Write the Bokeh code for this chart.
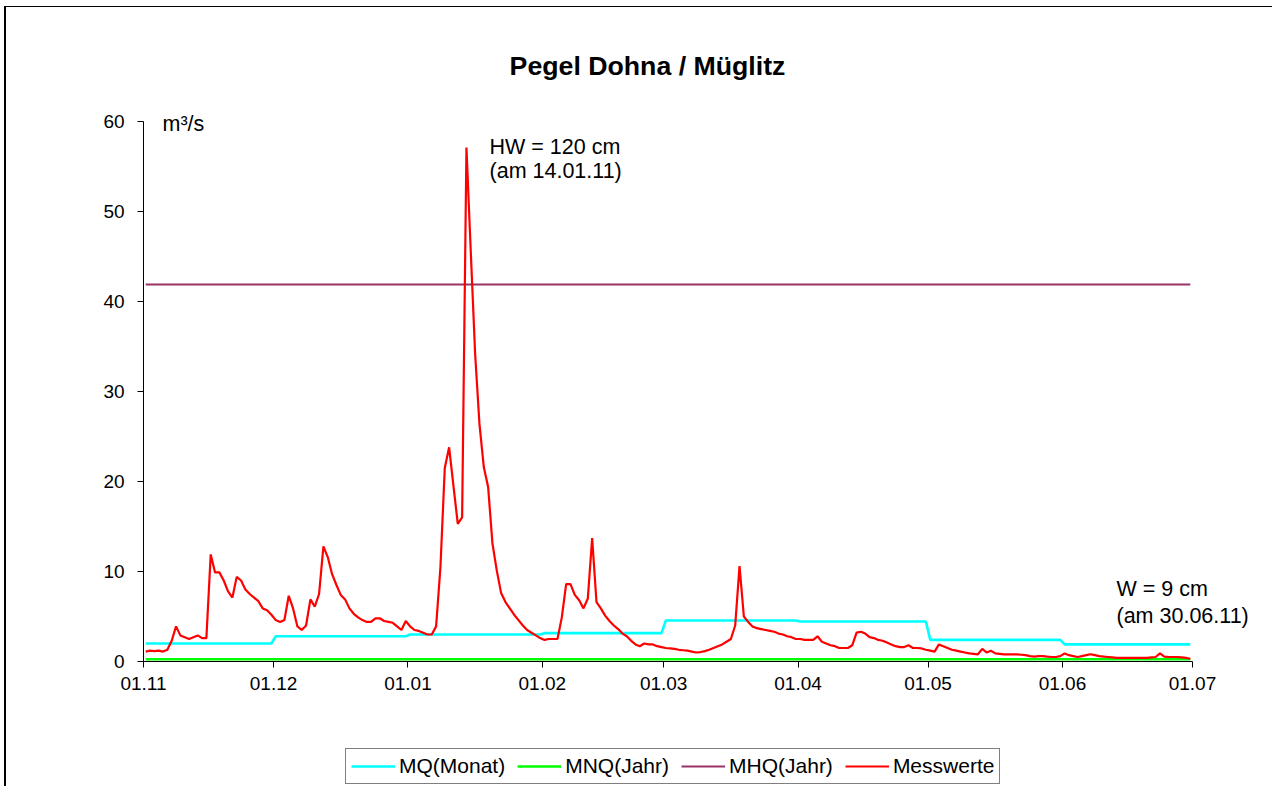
import pandas as pd
from bokeh.plotting import figure
from bokeh.models import Range1d, FixedTicker, DatetimeTickFormatter, Legend, LegendItem, Label
from bokeh.embed import file_html
from bokeh.resources import INLINE

# ---- data (daily discharge in m³/s, 01.11.2010 - 30.06.2011) ----
nov = [1.1, 1.2, 1.15, 1.2, 1.1, 1.3, 2.3, 3.9, 2.9, 2.7, 2.5, 2.7, 2.9, 2.6, 2.6,
       11.9, 9.9, 9.9, 9.0, 7.8, 7.1, 9.4, 9.0, 8.0, 7.5, 7.1, 6.7, 5.9, 5.7, 5.2]
dec = [4.6, 4.4, 4.6, 7.3, 5.9, 3.9, 3.5, 4.0, 6.9, 6.1, 7.5, 12.8, 11.6, 9.7, 8.5, 7.4,
       6.9, 5.9, 5.3, 4.9, 4.6, 4.4, 4.4, 4.8, 4.8, 4.5, 4.4, 4.3, 3.9, 3.5, 4.5]
jan = [3.9, 3.5, 3.4, 3.2, 3.0, 3.0, 3.9, 10.5, 21.5, 23.8, 19.5, 15.3, 16.0, 57.1, 45.5,
       34.2, 26.4, 21.6, 19.4, 13.1, 10.1, 7.6, 6.6, 5.9, 5.2, 4.6, 4.0, 3.5, 3.2, 2.9, 2.6]
feb = [2.4, 2.5, 2.5, 2.5, 4.9, 8.6, 8.6, 7.4, 6.8, 5.9, 7.0, 13.7, 6.6, 5.9, 5.1, 4.5,
       4.0, 3.6, 3.1, 2.8, 2.3, 1.9, 1.7, 2.0, 1.9, 1.9, 1.7, 1.6]
mar = [1.5, 1.45, 1.4, 1.3, 1.25, 1.2, 1.1, 1.0, 1.05, 1.15, 1.3, 1.5, 1.7, 1.9, 2.2, 2.5,
       4.0, 10.6, 5.0, 4.4, 3.9, 3.7, 3.6, 3.5, 3.4, 3.3, 3.1, 3.0, 2.8, 2.7, 2.5]
apr = [2.5, 2.4, 2.4, 2.4, 2.8, 2.2, 2.0, 1.8, 1.7, 1.5, 1.5, 1.5, 1.8, 3.2, 3.3, 3.1,
       2.7, 2.6, 2.4, 2.3, 2.1, 1.9, 1.7, 1.6, 1.6, 1.8, 1.5, 1.5, 1.45, 1.3]
may = [1.2, 1.1, 1.9, 1.7, 1.5, 1.3, 1.2, 1.1, 1.0, 0.9, 0.85, 0.8, 1.4, 1.0, 1.2, 0.9,
       0.85, 0.8, 0.8, 0.8, 0.8, 0.75, 0.7, 0.6, 0.55, 0.6, 0.6, 0.55, 0.5, 0.5, 0.6]
jun = [0.9, 0.7, 0.6, 0.5, 0.6, 0.7, 0.8, 0.7, 0.6, 0.55, 0.5, 0.45, 0.4, 0.4, 0.4, 0.4,
       0.4, 0.4, 0.4, 0.4, 0.45, 0.5, 0.9, 0.55, 0.5, 0.5, 0.5, 0.45, 0.4, 0.3]
months = [nov, dec, jan, feb, mar, apr, may, jun]

mq_monat = [2.0, 2.8, 3.0, 3.15, 4.55, 4.45, 2.4, 1.9]   # MQ(Monat)
mnq_jahr = 0.25                                          # MNQ(Jahr)
mhq_jahr = 41.9                                          # MHQ(Jahr)

tick_labels = ["01.11", "01.12", "01.01", "01.02", "01.03", "01.04", "01.05", "01.06", "01.07"]
tick_dates = ["2010-11-01", "2010-12-01", "2011-01-01", "2011-02-01", "2011-03-01",
              "2011-04-01", "2011-05-01", "2011-06-01", "2011-07-01"]
y_ticks = [0, 10, 20, 30, 40, 50, 60]

# ---- derived series ----
messwerte = [v for m in months for v in m]
mq_daily = [mq_monat[i] for i, m in enumerate(months) for _ in m]
dates = pd.date_range("2010-11-01", periods=len(messwerte), freq="D")
xs = dates + pd.Timedelta(hours=12)
mnq_daily = [mnq_jahr] * len(messwerte)
mhq_daily = [mhq_jahr] * len(messwerte)

FONT = "Liberation Sans"

# The frame covers almost the whole canvas; both axes are placed at fixed data
# locations (x axis at 0, y axis at 01.11) and bounded, so that the title, labels,
# legend and notes around the plot area are drawn inside the frame.
p = figure(width=1268, height=780, x_axis_type="datetime",
           output_backend="svg", toolbar_location=None, title_location=None,
           x_range=Range1d(pd.Timestamp("2010-10-02"), pd.Timestamp("2011-07-16")),
           y_range=Range1d(-13.89, 72.556),
           min_border_left=7, min_border_right=17, min_border_top=1, min_border_bottom=1)
p.styles = {"border-left": "2px solid #000000", "border-top": "1px solid #000000",
            "margin-left": "4px", "margin-top": "6px"}
p.outline_line_color = None
p.xgrid.visible = False
p.ygrid.visible = False
p.background_fill_color = "white"
p.border_fill_color = "white"

r_mnq = p.line(xs, mnq_daily, line_color="#00FF00", line_width=2.6)
r_mhq = p.line(xs, mhq_daily, line_color="#993366", line_width=2)
r_mq = p.line(xs, mq_daily, line_color="#00FFFF", line_width=2.6)
r_mw = p.line(xs, messwerte, line_color="#FF0000", line_width=2.2)

tick_ms = [pd.Timestamp(d).value // 10**6 for d in tick_dates]
p.xaxis.ticker = FixedTicker(ticks=tick_ms)
p.xaxis.major_label_overrides = {t: lab for t, lab in zip(tick_ms, tick_labels)}
p.xaxis.formatter = DatetimeTickFormatter(days="%d.%m", months="%d.%m", years="%d.%m")
p.xaxis.bounds = (tick_ms[0], tick_ms[-1])
p.xaxis.fixed_location = y_ticks[0]
p.yaxis.ticker = FixedTicker(ticks=y_ticks)
p.yaxis.bounds = (y_ticks[0], y_ticks[-1])
p.yaxis.fixed_location = tick_ms[0]

for ax in (p.xaxis[0], p.yaxis[0]):
    ax.axis_line_color = "#000000"
    ax.major_tick_line_color = "#000000"
    ax.minor_tick_line_color = None
    ax.major_tick_in = 0
    ax.major_tick_out = 6
    ax.major_label_text_font = FONT
    ax.major_label_text_font_size = "19px"
    ax.major_label_text_color = "#000000"
p.xaxis.major_label_standoff = 10
p.yaxis.major_label_standoff = 13

# title
p.add_layout(Label(x=pd.Timestamp("2011-02-25 06:30"), y=66.2, text="Pegel Dohna / Müglitz",
                   text_font=FONT, text_font_size="26.7px", text_font_style="bold",
                   text_color="#000000", text_align="center", text_baseline="alphabetic"))

def note(x, y, text):
    p.add_layout(Label(x=pd.Timestamp(x), y=y, text=text, text_font=FONT,
                       text_font_size="21.5px", text_color="#000000",
                       text_baseline="alphabetic"))

note("2010-11-05 09:10", 59.75, "m³/s")
note("2011-01-19 19:40", 57.12, "HW = 120 cm")
note("2011-01-19 19:40", 54.46, "(am 14.01.11)")
note("2011-06-13 11:15", 8.01, "W = 9 cm")
note("2011-06-13 11:15", 5.01, "(am 30.06.11)")

legend = Legend(items=[LegendItem(label="MQ(Monat)", renderers=[r_mq]),
                       LegendItem(label="MNQ(Jahr)", renderers=[r_mnq]),
                       LegendItem(label="MHQ(Jahr)", renderers=[r_mhq]),
                       LegendItem(label="Messwerte", renderers=[r_mw])],
                orientation="horizontal", location=(332, 2),
                glyph_width=44, glyph_height=20, label_standoff=4, spacing=12,
                padding=5, margin=0, label_text_font=FONT, label_text_font_size="21px",
                label_text_color="#000000", label_height=20,
                border_line_color="#000000", border_line_width=1,
                background_fill_alpha=1.0)
p.add_layout(legend, "center")

open("out.html", "w").write(file_html(p, INLINE))
